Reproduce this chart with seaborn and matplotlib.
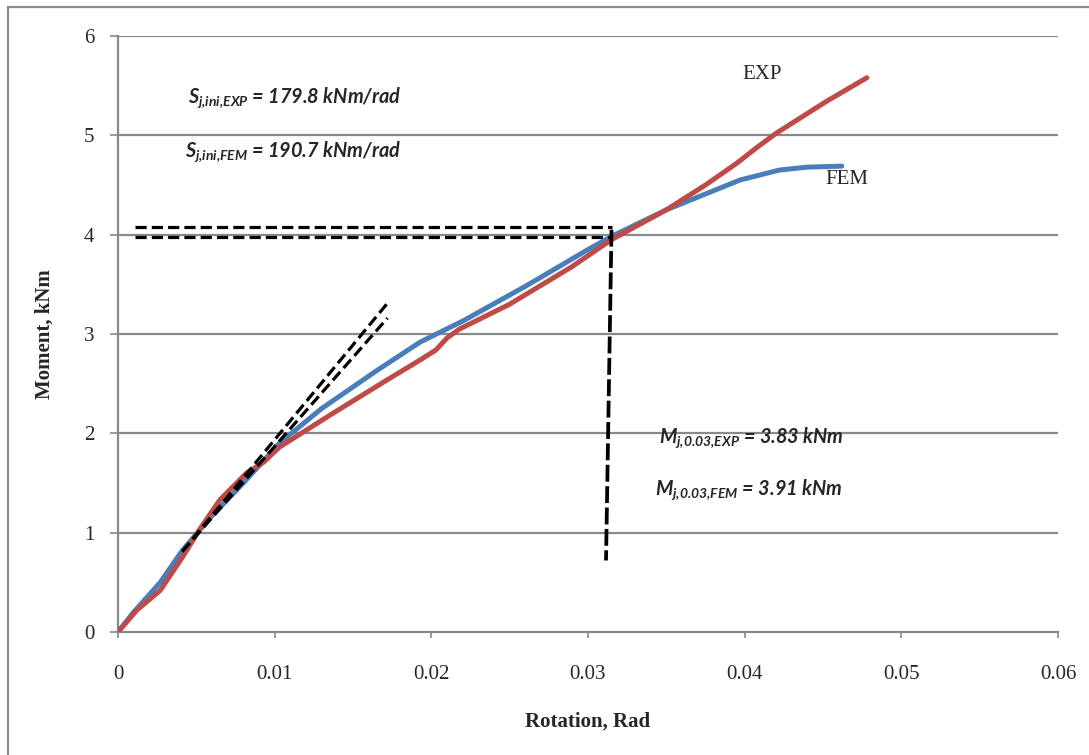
import matplotlib
matplotlib.use("Agg")
import matplotlib.pyplot as plt
import seaborn as sns
import pandas as pd
from matplotlib.patches import Rectangle

# ---------------- data ----------------
fem_rot = [0, 0.001, 0.0027, 0.0041, 0.006, 0.008, 0.0103, 0.013, 0.0165, 0.0193,
           0.022, 0.026, 0.030, 0.0316, 0.035, 0.0397, 0.0422, 0.044, 0.0462]
fem_mom = [0, 0.20, 0.50, 0.82, 1.17, 1.50, 1.90, 2.25, 2.63, 2.92,
           3.13, 3.48, 3.85, 3.99, 4.25, 4.55, 4.65, 4.68, 4.69]

exp_rot = [0, 0.0012, 0.0027, 0.0041, 0.0052, 0.0065, 0.0082, 0.0093, 0.0103, 0.0137,
           0.0172, 0.0193, 0.0203, 0.021, 0.0218, 0.025, 0.029, 0.0315, 0.035, 0.0375,
           0.0395, 0.0408, 0.042, 0.0452, 0.0478]
exp_mom = [0, 0.22, 0.42, 0.75, 1.03, 1.33, 1.60, 1.71, 1.86, 2.20,
           2.54, 2.74, 2.84, 2.96, 3.05, 3.30, 3.68, 3.95, 4.25, 4.50,
           4.72, 4.88, 5.02, 5.34, 5.58]

# tangent (initial stiffness) lines
tan_fem_x = [0.0041, 0.0172]
tan_fem_y = [0.81, 3.31]
tan_exp_x = [0.0041, 0.0172]
tan_exp_y = [0.81, 3.16]
# horizontal guide lines
hline_x = [0.0011, 0.0315]
hline_y_top = [4.08, 4.08]
hline_y_bot = [3.98, 3.98]
# vertical guide line
vline_x = [0.0315, 0.03115]
vline_y = [4.05, 0.72]

x_ticks = [0, 0.01, 0.02, 0.03, 0.04, 0.05, 0.06]
x_ticklabels = ["0", "0.01", "0.02", "0.03", "0.04", "0.05", "0.06"]
y_ticks = [0, 1, 2, 3, 4, 5, 6]

# ---------------- style ----------------
sns.set_theme(style="white")
plt.rcParams['font.family'] = ['Liberation Serif', 'DejaVu Serif']
plt.rcParams['mathtext.fontset'] = 'custom'
plt.rcParams['mathtext.it'] = 'Lato:italic:bold'
plt.rcParams['mathtext.rm'] = 'Lato:italic:bold'
plt.rcParams['mathtext.bf'] = 'Lato:italic:bold'

fig = plt.figure(figsize=(10.89, 7.55), dpi=100)
ax = fig.add_axes([118/1089, 1-632/755, 940/1089, 596/755])

grid_c = "#898989"
blue = "#4A7EBB"
red = "#BE4B48"

for yv in y_ticks[1:]:
    ax.axhline(yv, color=grid_c, lw=1.6, zorder=0)

df = pd.concat([
    pd.DataFrame({"Rotation": fem_rot, "Moment": fem_mom, "Series": "FEM"}),
    pd.DataFrame({"Rotation": exp_rot, "Moment": exp_mom, "Series": "EXP"}),
])
sns.lineplot(data=df, x="Rotation", y="Moment", hue="Series", sort=False,
             palette={"FEM": blue, "EXP": red}, lw=3.6, legend=False, ax=ax,
             estimator=None, zorder=3)
for ln in ax.lines[-2:]:
    ln.set_solid_capstyle("round")
    ln.set_solid_joinstyle("round")

dash_kw = dict(color="black", lw=2.3, dashes=(3.5, 1.6), zorder=4)
ax.plot(tan_fem_x, tan_fem_y, **dash_kw)
ax.plot(tan_exp_x, tan_exp_y, **dash_kw)
ax.plot(hline_x, hline_y_top, **dash_kw)
ax.plot(hline_x, hline_y_bot, **dash_kw)
ax.plot(vline_x, vline_y, color="black", lw=2.7, dashes=(4.5, 1.2), zorder=4)

ax.set_xlim(0, 0.06)
ax.set_ylim(0, 6)
ax.set_xticks(x_ticks)
ax.set_xticklabels(x_ticklabels)
ax.set_yticks(y_ticks)

for s in ["top", "right"]:
    ax.spines[s].set_visible(False)
for s in ["left", "bottom"]:
    ax.spines[s].set_color(grid_c)
    ax.spines[s].set_linewidth(1.6)

ax.tick_params(axis="y", direction="out", length=6, width=1.2, color=grid_c,
               pad=11, labelsize=15, left=True)
ax.tick_params(axis="x", direction="out", length=4, width=1.2, color=grid_c,
               pad=20, labelsize=15, bottom=True)

ax.set_xlabel("Rotation, Rad", fontsize=15, fontweight="bold")
ax.set_ylabel("Moment, kNm", fontsize=15, fontweight="bold")
ax.xaxis.set_label_coords((588 - 118) / 940, (632 - 712) / 596)
ax.yaxis.set_label_coords((55 - 118) / 940, 0.5)

ax.text(0.0411, 5.61, "EXP", fontsize=15, ha="center", va="center")
ax.text(0.0465, 4.56, "FEM", fontsize=15, ha="center", va="center")

ann_kw = dict(fontsize=14.3, family=["Lato", "DejaVu Sans"], fontstyle="italic",
              fontweight="bold", ha="left", va="center")
ax.text(0.00447, 5.38, r"$S_{j{,}ini{,}EXP}$ = 179.8 kNm/rad", **ann_kw)
ax.text(0.00428, 4.83, r"$S_{j{,}ini{,}FEM}$ = 190.7 kNm/rad", **ann_kw)
ax.text(0.0345, 1.96, r"$M_{j{,}0.03{,}EXP}$ = 3.83 kNm", **ann_kw)
ax.text(0.0343, 1.43, r"$M_{j{,}0.03{,}FEM}$ = 3.91 kNm", **ann_kw)

# chart-area border (top & left visible in reference)
fig.patches.append(Rectangle((8/1089, -0.01), 1.2, 1 - 7/755 + 0.01,
                             transform=fig.transFigure, fill=False,
                             edgecolor="#8c8c8c", lw=1.6, zorder=-1))

fig.savefig("out.png", dpi=100)
